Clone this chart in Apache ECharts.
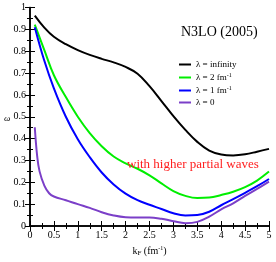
<!DOCTYPE html>
<html><head><meta charset="utf-8">
<script src="https://cdn.jsdelivr.net/npm/echarts@6/dist/echarts.min.js"></script>
<style>html,body{margin:0;padding:0;background:#fff}#c{width:276px;height:262px}</style>
</head><body><div id="c"></div>
<script>
const kF = [0.1,0.3,0.5,0.75,1,1.25,1.5,1.75,2,2.25,2.5,2.75,3,3.25,3.5,3.75,4,4.25,4.5,4.75,5];
const lamInf = [0.963,0.908,0.866,0.832,0.805,0.783,0.765,0.749,0.728,0.697,0.640,0.572,0.503,0.440,0.385,0.345,0.327,0.323,0.328,0.340,0.353];
const lam2 = [0.922,0.805,0.690,0.590,0.500,0.425,0.365,0.318,0.287,0.262,0.232,0.195,0.160,0.138,0.128,0.130,0.142,0.157,0.178,0.208,0.249];
const lam1 = [0.910,0.756,0.630,0.500,0.397,0.315,0.245,0.190,0.148,0.118,0.097,0.078,0.058,0.048,0.050,0.065,0.095,0.123,0.152,0.182,0.215];
const kF0 = [0.1,0.15,0.2,0.3,0.4,0.5,0.75,1,1.25,1.5,1.75,2,2.25,2.5,2.75,3,3.25,3.5,3.75,4,4.25,4.5,4.75,5];
const lam0 = [0.452,0.320,0.250,0.185,0.150,0.135,0.118,0.100,0.083,0.063,0.048,0.040,0.039,0.039,0.033,0.022,0.013,0.019,0.043,0.076,0.104,0.138,0.170,0.203];
const seriesNames = ['λ = infinity','λ = 2 fm{s|-1}','λ = 1 fm{s|-1}','λ = 0'];
const xTickLabels = ['0','0.5','1','1.5','2','2.5','3','3.5','4','4.5','5'];
const yTickLabels = ['0','0.1','0.2','0.3','0.4','0.5','0.6','0.7','0.8','0.9','1'];
const titleText = 'N3LO (2005)';
const noteText = 'with higher partial waves';
const yName = 'ω';

const F = '"Liberation Serif","DejaVu Serif",serif';
const pair = (xs, ys) => xs.map((x,i)=>[x, ys[i]]);
const colors = ['#000000','#00ee00','#0000ff','#7b3fc8'];
const datas = [pair(kF,lamInf), pair(kF,lam2), pair(kF,lam1), pair(kF0,lam0)];
const axLine = {show:true, lineStyle:{color:'#000', width:1.5}};
const xLab = v => { const i = Math.round(v/0.5); return xTickLabels[i] ?? ''; };
const yLab = v => { const i = Math.round(v/0.1); return yTickLabels[i] ?? ''; };
const xBase = {type:'value', min:0, max:5, interval:0.5, axisLine:axLine,
  axisTick:{inside:true, length:5, lineStyle:{color:'#000', width:1}},
  minorTick:{show:true, splitNumber:2, length:3, lineStyle:{color:'#000', width:1}},
  splitLine:{show:false}, minorSplitLine:{show:false}};
const yBase = {type:'value', min:0, max:1, interval:0.1, axisLine:axLine,
  axisTick:{inside:true, length:5, lineStyle:{color:'#000', width:1}},
  minorTick:{show:true, splitNumber:2, length:3, lineStyle:{color:'#000', width:1}},
  splitLine:{show:false}, minorSplitLine:{show:false}};

const chart = echarts.init(document.getElementById('c'), null, {renderer:'canvas'});
chart.setOption({
  backgroundColor:'#fff',
  animation:false,
  grid:{left:30, right:7, top:7.5, bottom:29.5},
  title:[
    {text:titleText, left:176, top:20, textStyle:{fontFamily:F, fontSize:14, fontWeight:'normal', color:'#000'}},
    {text:noteText, left:122, top:153, textStyle:{fontFamily:F, fontSize:13, fontWeight:'normal', color:'#ff2020'}}
  ],
  graphic:[{type:'text', left:4, top:114, style:{text:yName, font:'italic 9px "Liberation Serif", serif', fill:'#000'}}],
  legend:{orient:'vertical', left:174, top:55, itemWidth:12, itemHeight:2, itemGap:3, icon:'rect',
    data:seriesNames.map(n=>({name:n})),
    textStyle:{fontFamily:F, fontSize:9, color:'#000', rich:{s:{fontFamily:F, fontSize:6, verticalAlign:'top', padding:[0,0,5,0]}}}},
  xAxis:[
    Object.assign({}, xBase, {position:'bottom', name:'k{sub|F} (fm{sup|-1})', nameLocation:'middle', nameGap:19,
      nameTextStyle:{fontFamily:F, fontSize:10, color:'#000', rich:{sub:{fontFamily:F, fontSize:7, padding:[5,0,0,0]}, sup:{fontFamily:F, fontSize:6, padding:[0,0,5,0]}}},
      axisLabel:{fontFamily:F, fontSize:10, color:'#000', margin:4, formatter:xLab}}),
    Object.assign({}, xBase, {position:'top', axisLabel:{show:false}})
  ],
  yAxis:[
    Object.assign({}, yBase, {position:'left',
      axisLabel:{fontFamily:F, fontSize:10, color:'#000', margin:4, formatter:yLab}}),
    Object.assign({}, yBase, {position:'right', axisLabel:{show:false}})
  ],
  series: datas.map((d,i)=>({name:seriesNames[i], type:'line', data:d, smooth:0.4, symbol:'none',
    lineStyle:{color:colors[i], width:2}, itemStyle:{color:colors[i]}, xAxisIndex:0, yAxisIndex:0}))
});
</script></body></html>
